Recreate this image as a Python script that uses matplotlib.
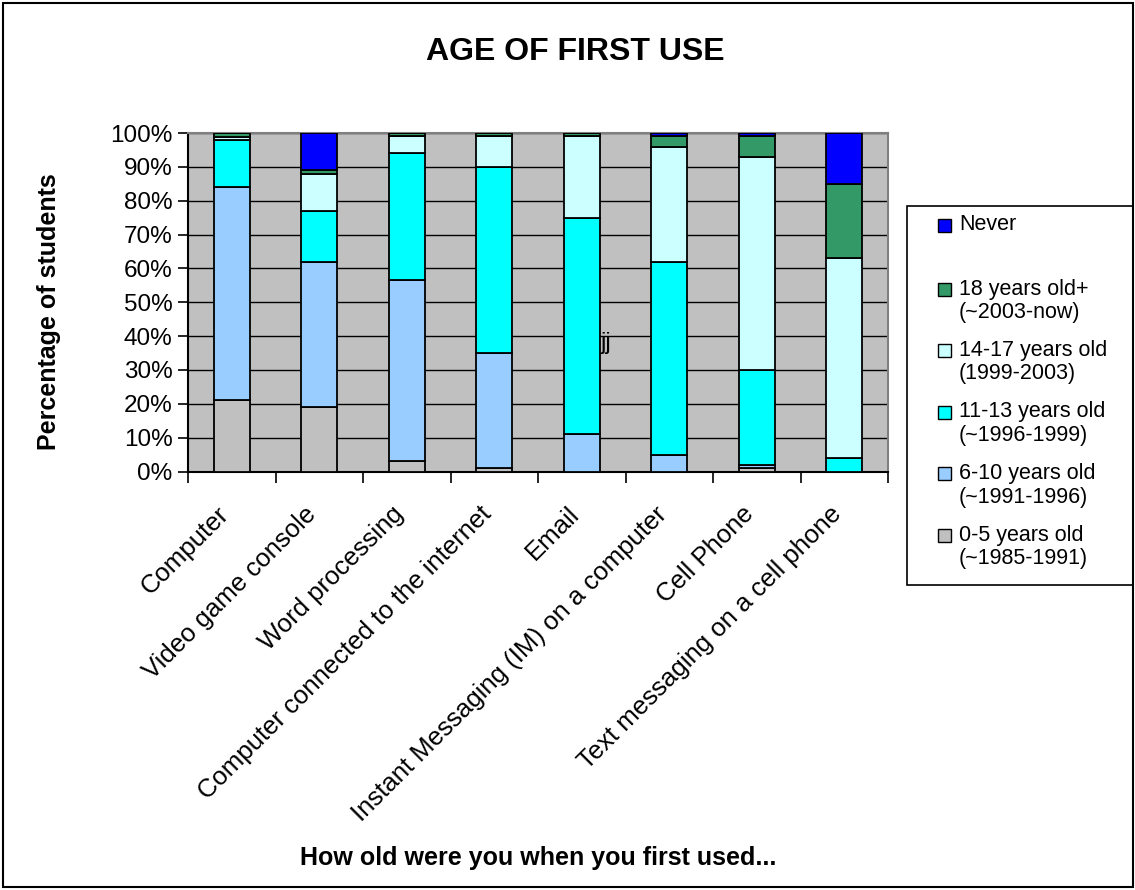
import matplotlib
matplotlib.use("Agg")
import matplotlib.pyplot as plt
import matplotlib.transforms as mtransforms
from matplotlib.patches import Rectangle
import numpy as np

plt.rcParams['font.family'] = ['Liberation Sans', 'DejaVu Sans']

categories = ["Computer", "Video game console", "Word processing",
              "Computer connected to the internet", "Email",
              "Instant Messaging (IM) on a computer", "Cell Phone",
              "Text messaging on a cell phone"]

# percentages, bottom to top of each bar
age_0_5 = [21, 19, 3, 1, 0, 0, 1, 0]
age_6_10 = [63, 43, 53.5, 34, 11, 5, 1, 0]
age_11_13 = [14, 15, 37.5, 55, 64, 57, 28, 4]
age_14_17 = [0.8, 11, 5, 9, 24, 34, 63, 59]
age_18_plus = [1.2, 1, 1, 1, 1, 3, 6, 22]
never = [0, 11, 0, 0, 0, 1, 1, 15]

series_labels = ["0-5 years old\n(~1985-1991)", "6-10 years old\n(~1991-1996)",
                 "11-13 years old\n(~1996-1999)", "14-17 years old\n(1999-2003)",
                 "18 years old+\n(~2003-now)", "Never"]
series_colors = ["#C0C0C0", "#99CCFF", "#00FFFF", "#CCFFFF", "#339966", "#0000FF"]
series_values = [age_0_5, age_6_10, age_11_13, age_14_17, age_18_plus, never]

W, H = 1135, 890
fig = plt.figure(figsize=(W / 100, H / 100), dpi=100)
fig.patch.set_facecolor("white")


def fx(px):
    return px / W


def fy(py):
    return 1 - py / H


ax = fig.add_axes([fx(188), fy(471.5), (888 - 188) / W, (471.5 - 133) / H])
ax.set_facecolor("#C0C0C0")

x = np.arange(len(categories))
bottom = np.zeros(len(categories))
for vals, col in zip(series_values, series_colors):
    ax.bar(x, vals, bottom=bottom, width=0.41, color=col,
           edgecolor="black", linewidth=1.3, zorder=3)
    bottom += np.array(vals)

ax.set_xlim(-0.5, len(categories) - 0.5)
ax.set_ylim(0, 100)
ax.set_yticks(np.arange(0, 101, 10))
ax.set_yticklabels([f"{v}%" for v in range(0, 101, 10)], fontsize=17.5)
ax.yaxis.grid(True, color="black", linewidth=1)
ax.set_axisbelow(True)
ax.tick_params(axis="y", direction="out", length=7, width=1.2, pad=4)

ax.set_xticks(x)
ax.set_xticklabels(categories, rotation=45, ha="right", va="top",
                   rotation_mode="anchor", fontsize=18.5)
ax.tick_params(axis="x", which="major", length=0, pad=22)
shift = mtransforms.ScaledTranslation(-0.15, 0, fig.dpi_scale_trans)
for lbl in ax.get_xticklabels():
    lbl.set_transform(lbl.get_transform() + shift)
ax.set_xticks(np.arange(-0.5, len(categories), 1), minor=True)
ax.tick_params(axis="x", which="minor", direction="out", length=8, width=1.2)

for s in ["left", "bottom"]:
    ax.spines[s].set_color("black")
    ax.spines[s].set_linewidth(1.5)
for s in ["top", "right"]:
    ax.spines[s].set_color("#808080")
    ax.spines[s].set_linewidth(1.5)

ax.text(4.22, 38, "jj", fontsize=17, ha="left", va="center", zorder=4)

fig.text(fx(575), fy(60), "AGE OF FIRST USE", fontsize=23, fontweight="bold",
         ha="center", va="baseline")
fig.text(fx(49), fy(312), "Percentage of students", fontsize=18,
         fontweight="bold", rotation=90, ha="center", va="center")
fig.text(fx(538), fy(865), "How old were you when you first used...",
         fontsize=18, fontweight="bold", ha="center", va="baseline")

# legend box (entries listed top to bottom: Never first)
fig.add_artist(Rectangle((fx(907), fy(585)), (1133 - 907) / W, (585 - 206) / H,
                         transform=fig.transFigure, fill=False,
                         edgecolor="black", linewidth=1.2))
line_y = [225, 289, 350.5, 412, 473.5, 535]
for i, (lab, col) in enumerate(zip(series_labels[::-1], series_colors[::-1])):
    y0 = line_y[i]
    fig.add_artist(Rectangle((fx(938), fy(y0 + 6.5)), 13 / W, 13 / H,
                             transform=fig.transFigure, facecolor=col,
                             edgecolor="black", linewidth=1))
    for j, part in enumerate(lab.split("\n")):
        fig.text(fx(959), fy(y0 + 23.5 * j), part, fontsize=15.5,
                 ha="left", va="center")

# outer chart border
fig.add_artist(Rectangle((fx(3), fy(887)), (1133 - 3) / W, (887 - 3) / H,
                         transform=fig.transFigure, fill=False,
                         edgecolor="black", linewidth=1.5))

fig.savefig("out.png", dpi=100)
